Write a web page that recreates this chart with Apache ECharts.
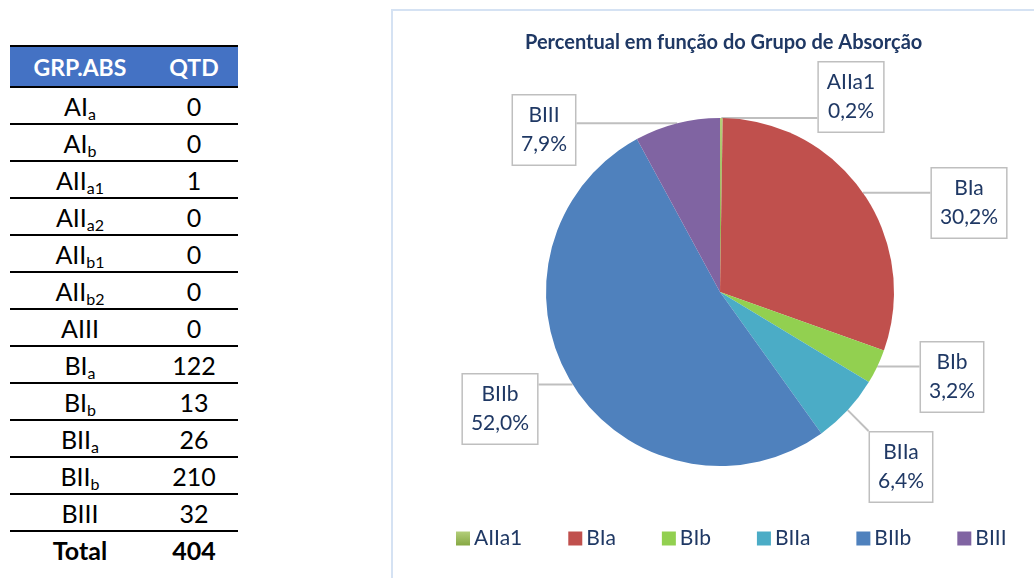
<!DOCTYPE html>
<html>
<head>
<meta charset="utf-8">
<script src="https://cdn.jsdelivr.net/npm/echarts@6/dist/echarts.min.js"></script>
<style>
  html, body { margin: 0; padding: 0; background: #fff; overflow: hidden; }
  #chart { position: absolute; left: 0; top: 0; width: 1034px; height: 578px; }
  #tabela { position: absolute; left: 10px; top: 45px; width: 228px; font-family: Lato, sans-serif; color: #000; }
  .linha { display: flex; height: 37px; border-top: 2px solid #000; box-sizing: border-box; align-items: center; font-size: 25px; }
  .linha.cab { height: 41px; background: #4472C4; color: #fff; font-weight: bold; font-size: 23px; }
  .linha.total { border-bottom: none; font-weight: bold; }
  .c1 { width: 140px; text-align: center; }
  .c2 { width: 88px; text-align: center; }
  sub { font-size: 16px; vertical-align: -4px; line-height: 0; }
</style>
</head>
<body>
<div id="tabela"></div>
<div id="chart"></div>
<script>
  // dados da tabela
  const grupos = ['AI', 'AI', 'AII', 'AII', 'AII', 'AII', 'AIII', 'BI', 'BI', 'BII', 'BII', 'BIII']
  const indices = ['a', 'b', 'a1', 'a2', 'b1', 'b2', '', 'a', 'b', 'a', 'b', '']
  const qtd = [0, 0, 1, 0, 0, 0, 0, 122, 13, 26, 210, 32]
  const cores = ['#9BBB59', '#C0504D', '#92D050', '#4BACC6', '#4F81BD', '#8064A2']

  const total = qtd.reduce((a, b) => a + b, 0)

  // monta a tabela
  let html = '<div class="linha cab"><div class="c1">GRP.ABS</div><div class="c2">QTD</div></div>'
  grupos.forEach((g, i) => {
    const sub = indices[i] ? '<sub>' + indices[i] + '</sub>' : ''
    html += '<div class="linha"><div class="c1">' + g + sub + '</div><div class="c2">' + qtd[i] + '</div></div>'
  })
  html += '<div class="linha total"><div class="c1">Total</div><div class="c2">' + total + '</div></div>'
  document.getElementById('tabela').innerHTML = html

  // fatias do gráfico (só grupos com quantidade)
  const pieData = []
  grupos.forEach((g, i) => {
    if (qtd[i] > 0) pieData.push({ name: g + indices[i], value: qtd[i] })
  })

  const azul = '#1F3864'
  // centro das caixas de rótulo
  const posRotulo = {
    AIIa1: [851, 97],
    BIa: [969, 203],
    BIb: [952, 377],
    BIIa: [901, 467],
    BIIb: [500, 409],
    BIII: [544, 130]
  }

  const chart = echarts.init(document.getElementById('chart'))
  chart.setOption({
    animation: false,
    color: [
      new echarts.graphic.LinearGradient(0, 0, 0, 1, [{ offset: 0, color: '#B3CE7A' }, { offset: 1, color: '#86A843' }]),
      ...cores.slice(1)
    ],
    textStyle: { fontFamily: 'Lato, sans-serif' },
    graphic: [{
      type: 'rect',
      shape: { x: 392, y: 10, width: 700, height: 620 },
      style: { fill: 'none', stroke: '#D5E2F3', lineWidth: 2 }
    }],
    title: {
      text: 'Percentual em função do Grupo de Absorção',
      left: 525,
      top: 33,
      padding: 0,
      textStyle: { fontSize: 20, fontWeight: 'bold', color: azul }
    },
    legend: {
      left: 456,
      top: 528,
      padding: 0,
      icon: 'rect',
      itemWidth: 14,
      itemHeight: 14,
      itemGap: 46,
      textStyle: { fontSize: 21, color: azul, padding: [0, 0, 0, -1] },
      data: pieData.map(d => d.name)
    },
    series: [{
      type: 'pie',
      center: [720, 292],
      radius: 174,
      startAngle: 90,
      data: pieData,
      itemStyle: { borderWidth: 0 },
      label: {
        show: true,
        position: 'outside',
        formatter: p => p.name + '\n' + (p.value / total * 100).toFixed(1).replace('.', ',') + '%',
        fontSize: 21,
        lineHeight: 29,
        color: azul,
        align: 'center',
        backgroundColor: '#fff',
        borderColor: '#BFBFBF',
        borderWidth: 1.5,
        padding: [5, 8, 6, 8]
      },
      labelLine: {
        show: true,
        lineStyle: { color: '#BFBFBF', width: 2 }
      },
      labelLayout: params => {
        const d = pieData[params.dataIndex]
        const p = d && posRotulo[d.name]
        if (!p) return {}
        const r = params.labelRect
        const ini = params.labelLinePoints ? params.labelLinePoints[0] : null
        const res = { x: p[0], y: p[1], align: 'center', verticalAlign: 'middle' }
        if (ini) {
          // ponto da caixa mais próximo da fatia
          const x0 = p[0] - r.width / 2, x1 = p[0] + r.width / 2
          const y0 = p[1] - r.height / 2, y1 = p[1] + r.height / 2
          const fim = [Math.min(Math.max(ini[0], x0), x1), Math.min(Math.max(ini[1], y0), y1)]
          res.labelLinePoints = [ini, fim]
        }
        return res
      }
    }]
  })
</script>
</body>
</html>
